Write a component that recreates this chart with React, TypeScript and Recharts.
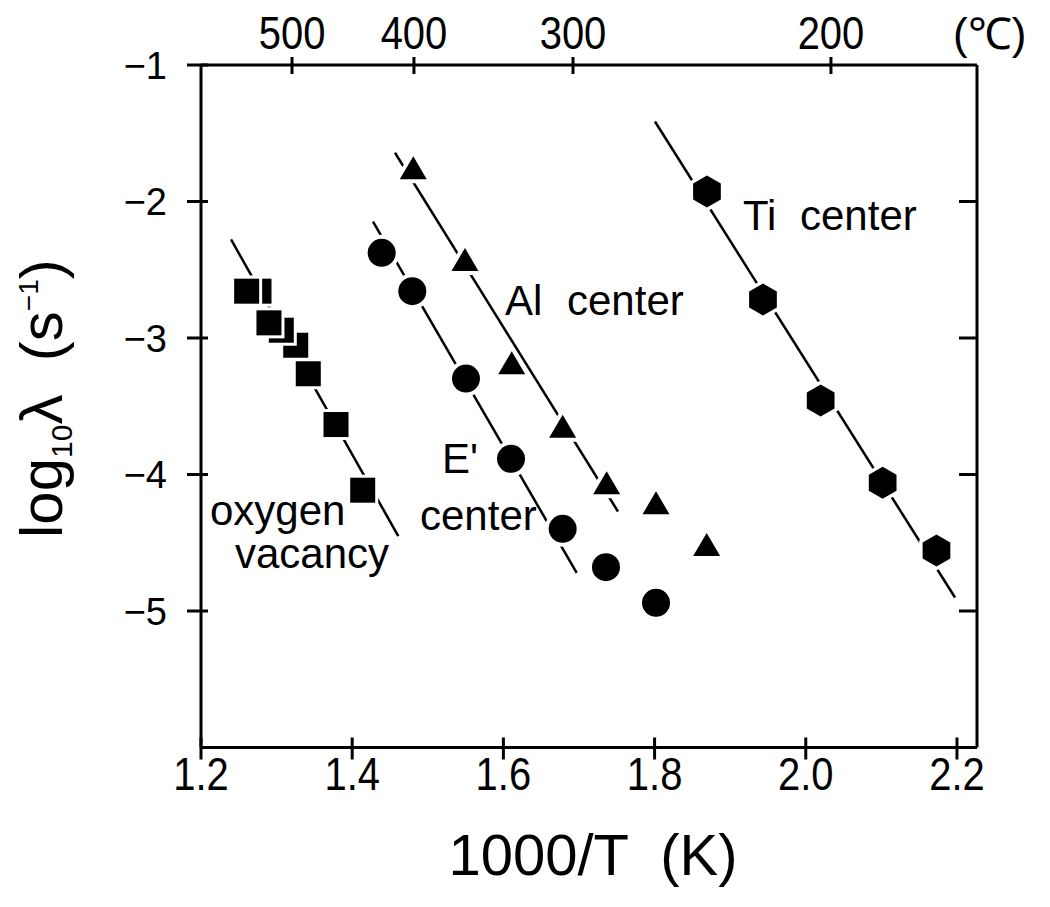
import { Scatter, ScatterChart, XAxis, YAxis } from 'recharts'

const FONT = '"Liberation Sans", Arial, Helvetica, sans-serif'

// axis ticks
const xTicks = [1.2, 1.4, 1.6, 1.8, 2.0, 2.2]
const yTicks = [-1, -2, -3, -4, -5]
const rightTicks = [-2, -3, -4, -5]
const celsiusTickPos = [1.3204, 1.4817, 1.6921, 2.0333]
const celsiusLabels = ['500', '400', '300', '200']

// measured points, 1000/T vs log10(lambda)
const oxygenVacancy = [
  { x: 1.2604, y: -2.657 },
  { x: 1.2767, y: -2.657 },
  { x: 1.2899, y: -2.889 },
  { x: 1.3062, y: -2.943 },
  { x: 1.3253, y: -3.053 },
  { x: 1.3419, y: -3.262 },
  { x: 1.3786, y: -3.634 },
  { x: 1.4139, y: -4.115 },
]
const ePrimeCenter = [
  { x: 1.439, y: -2.376 },
  { x: 1.4795, y: -2.657 },
  { x: 1.5505, y: -3.297 },
  { x: 1.6101, y: -3.885 },
  { x: 1.6784, y: -4.398 },
  { x: 1.7357, y: -4.679 },
  { x: 1.8019, y: -4.94 },
]
const alCenter = [
  { x: 1.4808, y: -1.753 },
  { x: 1.5492, y: -2.425 },
  { x: 1.611, y: -3.182 },
  { x: 1.6784, y: -3.646 },
  { x: 1.7366, y: -4.061 },
  { x: 1.8019, y: -4.207 },
  { x: 1.8689, y: -4.513 },
]
const tiCenter = [
  { x: 1.8693, y: -1.927 },
  { x: 1.9434, y: -2.718 },
  { x: 2.0197, y: -3.458 },
  { x: 2.1017, y: -4.061 },
  { x: 2.1729, y: -4.557 },
]

// fitted lines (end points)
const oxygenFit = [
  { x: 1.2397, y: -2.278 },
  { x: 1.461, y: -4.452 },
]
const ePrimeFit = [
  { x: 1.4275, y: -2.147 },
  { x: 1.697, y: -4.72 },
]
const alFit = [
  { x: 1.4566, y: -1.643 },
  { x: 1.7516, y: -4.271 },
]
const tiFit = [
  { x: 1.8005, y: -1.414 },
  { x: 2.1974, y: -4.901 },
]

const HALO = 4

function SquareMark({ cx, cy }: any) {
  const s = 25
  const h = 3
  return (
    <g>
      <rect x={cx - s / 2 - h} y={cy - s / 2 - h} width={s + 2 * h} height={s + 2 * h} fill="#fff" />
      <rect x={cx - s / 2} y={cy - s / 2} width={s} height={s} fill="#000" />
    </g>
  )
}

function CircleMark({ cx, cy }: any) {
  return (
    <g>
      <circle cx={cx} cy={cy} r={14 + HALO} fill="#fff" />
      <circle cx={cx} cy={cy} r={14} fill="#000" />
    </g>
  )
}

function triPath(cx: number, cy: number, w: number, h: number) {
  return `M${cx},${cy - h / 2} L${cx + w / 2},${cy + h / 2} L${cx - w / 2},${cy + h / 2} Z`
}

function TriangleMark({ cx, cy }: any) {
  return (
    <g>
      <path d={triPath(cx, cy, 27, 23)} fill="#fff" stroke="#fff" strokeWidth={HALO * 2} strokeLinejoin="round" />
      <path d={triPath(cx, cy, 27, 23)} fill="#000" />
    </g>
  )
}

function hexPath(cx: number, cy: number, r: number) {
  const pts = []
  for (let i = 0; i < 6; i++) {
    const a = (Math.PI / 3) * i - Math.PI / 2
    pts.push(`${cx + r * Math.cos(a)},${cy + r * Math.sin(a)}`)
  }
  return `M${pts.join(' L')} Z`
}

function HexMark({ cx, cy }: any) {
  return (
    <g>
      <path d={hexPath(cx, cy, 16 + HALO)} fill="#fff" />
      <path d={hexPath(cx, cy, 16)} fill="#000" />
    </g>
  )
}

const NoMark = () => <g />

function BottomTick({ x, y, payload }: any) {
  return (
    <g>
      <line x1={x} x2={x} y1={y - 10} y2={y + 12} stroke="#000" strokeWidth={3} />
      <text
        transform={`translate(${x},${y + 42}) scale(0.85,1)`}
        textAnchor="middle"
        fontSize={47}
        fontFamily={FONT}
        fill="#000"
      >
        {Number(payload.value).toFixed(1)}
      </text>
    </g>
  )
}

function TopTick({ x, y, payload }: any) {
  const i = celsiusTickPos.indexOf(payload.value)
  return (
    <g>
      <line x1={x} x2={x} y1={y - 8} y2={y + 9} stroke="#000" strokeWidth={3} />
      <text
        transform={`translate(${x},${y - 16}) scale(0.85,1)`}
        textAnchor="middle"
        fontSize={47}
        fontFamily={FONT}
        fill="#000"
      >
        {celsiusLabels[i] ?? ''}
      </text>
    </g>
  )
}

function LeftTick({ x, y, payload }: any) {
  return (
    <g>
      <line x1={x - 14} x2={x + 7} y1={y} y2={y} stroke="#000" strokeWidth={3} />
      <text x={x - 34} y={y + 13.5} textAnchor="end" fontSize={38} fontFamily={FONT} fill="#000">
        {'\u2212' + Math.abs(payload.value)}
      </text>
    </g>
  )
}

function RightTick({ x, y }: any) {
  return <line x1={x - 18} x2={x} y1={y} y2={y} stroke="#000" strokeWidth={3} />
}

const axisLine = { stroke: '#000', strokeWidth: 3 }
const fitLine = { stroke: '#000', strokeWidth: 2.5 }

export default function App() {
  return (
    <div style={{ position: 'relative', width: 1040, height: 895 }}>
      <ScatterChart width={1040} height={895} margin={{ top: 17, right: 31, bottom: 95.5, left: 133 }}>
        <XAxis
          xAxisId="bottom"
          dataKey="x"
          type="number"
          domain={[1.2, 2.2265]}
          allowDataOverflow
          ticks={xTicks}
          interval={0}
          height={60}
          tickSize={0}
          tickMargin={0}
          tickLine={false}
          axisLine={axisLine}
          tick={BottomTick}
        />
        <XAxis
          xAxisId="top"
          dataKey="x"
          orientation="top"
          type="number"
          domain={[1.2, 2.2265]}
          allowDataOverflow
          ticks={celsiusTickPos}
          interval={0}
          height={40}
          tickSize={0}
          tickMargin={0}
          tickLine={false}
          axisLine={axisLine}
          tick={TopTick}
        />
        <YAxis
          yAxisId="left"
          dataKey="y"
          type="number"
          domain={[-6, -1]}
          allowDataOverflow
          ticks={yTicks}
          interval={0}
          width={60}
          tickSize={0}
          tickMargin={0}
          tickLine={false}
          axisLine={axisLine}
          tick={LeftTick}
        />
        <YAxis
          yAxisId="right"
          dataKey="y"
          orientation="right"
          type="number"
          domain={[-6, -1]}
          allowDataOverflow
          ticks={rightTicks}
          interval={0}
          width={40}
          tickSize={0}
          tickMargin={0}
          tickLine={false}
          axisLine={axisLine}
          tick={RightTick}
        />

        {/* invisible series so the top / right axes get their ticks */}
        <Scatter xAxisId="top" yAxisId="right" data={tiFit} shape={NoMark} isAnimationActive={false} />

        <Scatter xAxisId="bottom" yAxisId="left" data={oxygenFit} line={fitLine} shape={NoMark} isAnimationActive={false} />
        <Scatter xAxisId="bottom" yAxisId="left" data={ePrimeFit} line={fitLine} shape={NoMark} isAnimationActive={false} />
        <Scatter xAxisId="bottom" yAxisId="left" data={alFit} line={fitLine} shape={NoMark} isAnimationActive={false} />
        <Scatter xAxisId="bottom" yAxisId="left" data={tiFit} line={fitLine} shape={NoMark} isAnimationActive={false} />

        <Scatter
          xAxisId="bottom"
          yAxisId="left"
          data={[...oxygenVacancy].reverse()}
          shape={SquareMark}
          isAnimationActive={false}
        />
        <Scatter xAxisId="bottom" yAxisId="left" data={ePrimeCenter} shape={CircleMark} isAnimationActive={false} />
        <Scatter xAxisId="bottom" yAxisId="left" data={alCenter} shape={TriangleMark} isAnimationActive={false} />
        <Scatter xAxisId="bottom" yAxisId="left" data={tiCenter} shape={HexMark} isAnimationActive={false} />
      </ScatterChart>

      <svg
        width={1040}
        height={895}
        style={{ position: 'absolute', left: 0, top: 0, pointerEvents: 'none' }}
        fontFamily={FONT}
      >
        <text x={945} y={41} fontSize={44}>(℃)</text>
        <text x={202} y={517} fontSize={42}>oxygen</text>
        <text x={227} y={560} fontSize={42}>vacancy</text>
        <text x={434} y={465} fontSize={42}>E'</text>
        <text x={412} y={522} fontSize={42}>center</text>
        <text x={497} y={307} fontSize={42}>Al</text>
        <text x={559} y={307} fontSize={42}>center</text>
        <text x={735} y={222} fontSize={42}>Ti</text>
        <text x={792} y={222} fontSize={42}>center</text>
        <text x={585} y={867} fontSize={58} textAnchor="middle" style={{ whiteSpace: 'pre' }}>
          1000/T  (K)
        </text>
        <text transform="translate(54,530) rotate(-90)" fontSize={60}>
          log
          <tspan fontSize={30} dy={10}>10</tspan>
          <tspan fontSize={60} dy={-10}>λ</tspan>
          <tspan fontSize={60} style={{ whiteSpace: 'pre' }}>  (s</tspan>
          <tspan fontSize={28} dy={-24}>−1</tspan>
          <tspan fontSize={60} dy={24}>)</tspan>
        </text>
      </svg>
    </div>
  )
}
